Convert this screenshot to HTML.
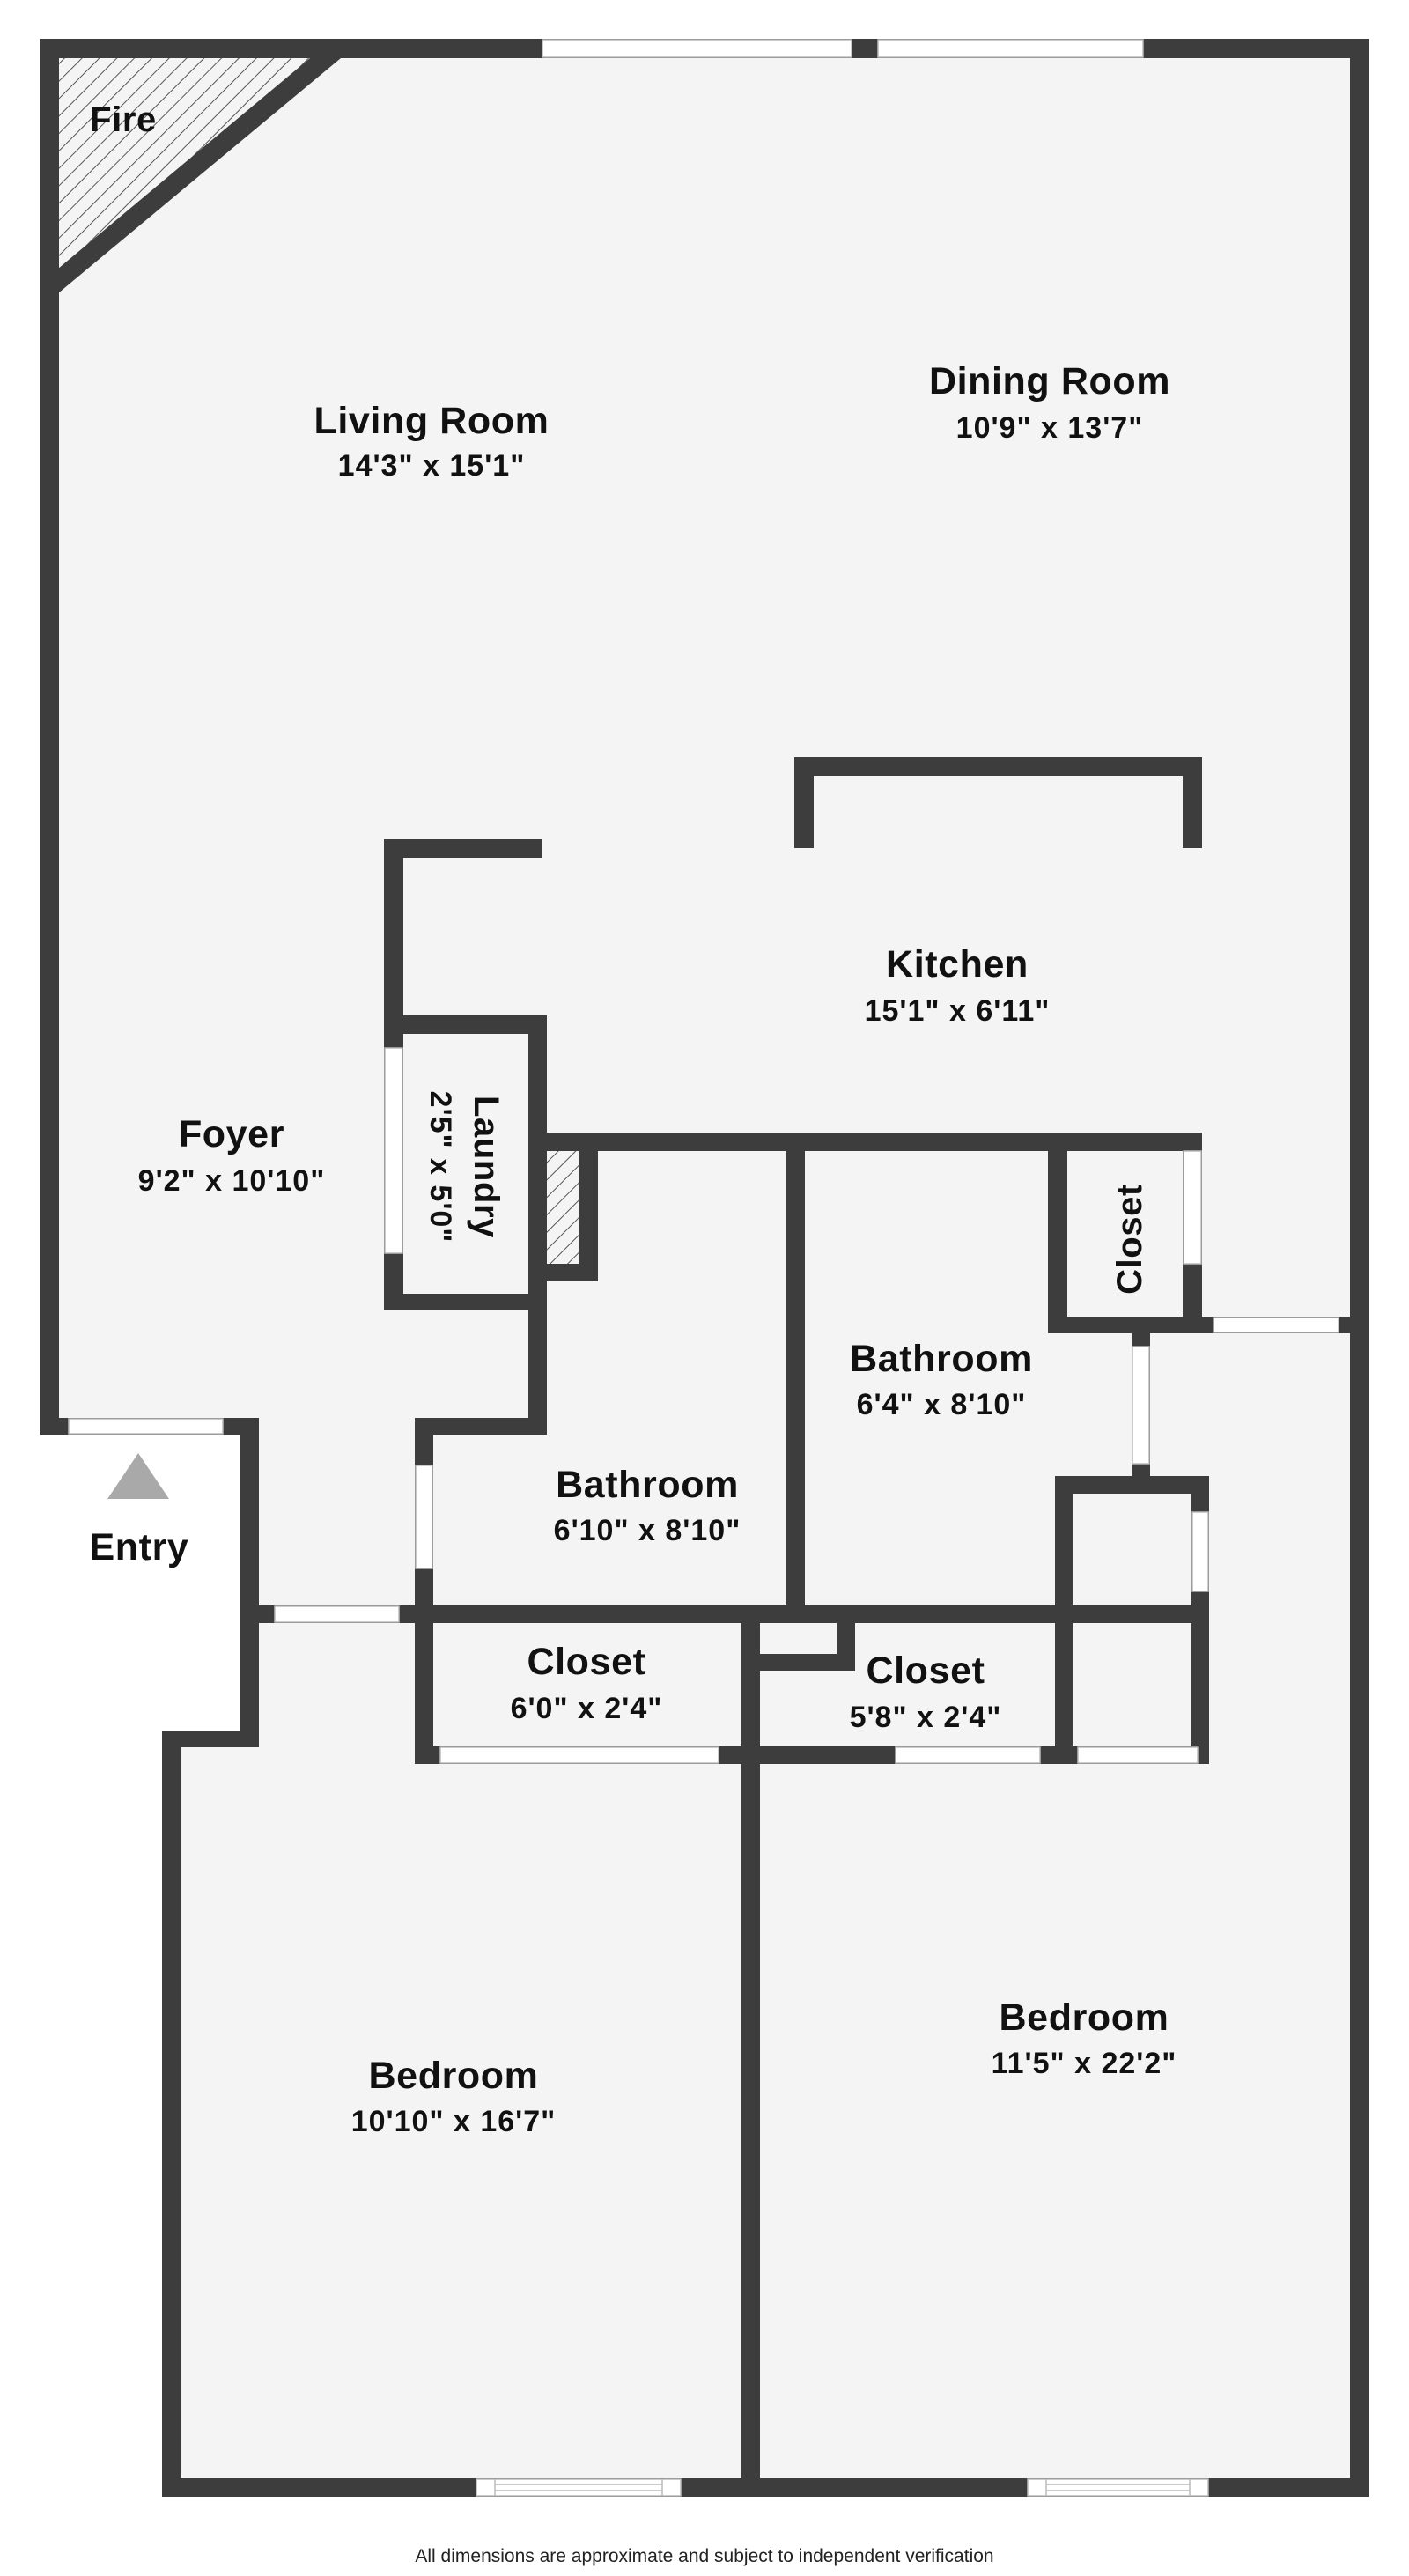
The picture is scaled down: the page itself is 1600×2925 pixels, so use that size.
<!DOCTYPE html>
<html><head><meta charset="utf-8"><style>
html,body{margin:0;padding:0;background:#fff;}
svg{display:block}
text{font-family:"Liberation Sans",sans-serif;font-weight:bold;fill:#111;text-anchor:middle}
.t{font-size:43px;letter-spacing:0.6px}
.d{font-size:34px;letter-spacing:1px}
</style></head><body>
<svg width="1600" height="2925" viewBox="0 0 1600 2925" xmlns="http://www.w3.org/2000/svg">
<defs>
<pattern id="h" width="14" height="14" patternUnits="userSpaceOnUse" patternTransform="rotate(45)">
<rect width="14" height="14" fill="#f4f4f4"/><line x1="0" y1="0" x2="0" y2="14" stroke="#555" stroke-width="2"/>
</pattern>
</defs>
<rect x="45" y="44" width="1510" height="2791" fill="#f4f4f4"/>
<polygon points="45,1629 272,1629 272,1984 184,1984 184,2835 45,2835" fill="#fff"/>
<polygon points="66,66 352,66 66,305" fill="url(#h)"/>
<g fill="#3d3d3d">
<rect x="45" y="44" width="1510" height="22"/>
<rect x="45" y="44" width="22" height="1585"/>
<rect x="1533" y="44" width="22" height="2791"/>
<rect x="45" y="1610" width="249" height="19"/>
<rect x="272" y="1610" width="22" height="374"/>
<rect x="184" y="1965" width="110" height="19"/>
<rect x="184" y="1965" width="21" height="870"/>
<rect x="184" y="2814" width="1371" height="21"/>
<polygon points="383,44 387,66 66,333 66,305 352,66"/>
<rect x="902" y="860" width="463" height="21"/>
<rect x="902" y="860" width="22" height="103"/>
<rect x="1343" y="860" width="22" height="103"/>
<rect x="436" y="953" width="180" height="21"/>
<rect x="436" y="953" width="22" height="535"/>
<rect x="436" y="1153" width="185" height="21"/>
<rect x="600" y="1153" width="21" height="476"/>
<rect x="436" y="1469" width="185" height="19"/>
<rect x="621" y="1307" width="36" height="128" fill="url(#h)"/>
<rect x="657" y="1286" width="22" height="169"/>
<rect x="621" y="1435" width="58" height="20"/>
<rect x="612" y="1286" width="753" height="21"/>
<rect x="892" y="1286" width="22" height="557"/>
<rect x="1190" y="1286" width="22" height="228"/>
<rect x="1343" y="1286" width="22" height="228"/>
<rect x="1190" y="1495" width="175" height="19"/>
<rect x="1365" y="1495" width="168" height="19"/>
<rect x="1285" y="1514" width="21" height="162"/>
<rect x="471" y="1610" width="150" height="19"/>
<rect x="471" y="1610" width="21" height="393"/>
<rect x="272" y="1823" width="1101" height="20"/>
<rect x="1198" y="1676" width="175" height="20"/>
<rect x="1198" y="1676" width="21" height="327"/>
<rect x="1353" y="1676" width="20" height="327"/>
<rect x="842" y="1823" width="21" height="1012"/>
<rect x="950" y="1823" width="21" height="74"/>
<rect x="863" y="1878" width="108" height="19"/>
<rect x="471" y="1983" width="902" height="20"/>
</g>
<g fill="#fff" stroke="#bbb" stroke-width="1.5">
<rect x="616" y="45" width="351" height="20"/>
<rect x="997" y="45" width="301" height="20"/>
<rect x="437" y="1190" width="20" height="233"/>
<rect x="1344" y="1307" width="20" height="128"/>
<rect x="1378" y="1496" width="142" height="17"/>
<rect x="1286" y="1529" width="19" height="133"/>
<rect x="78" y="1611" width="175" height="17"/>
<rect x="472" y="1664" width="19" height="117"/>
<rect x="1354" y="1717" width="18" height="90"/>
<rect x="312" y="1824" width="141" height="18"/>
<rect x="500" y="1984" width="316" height="18"/>
<rect x="1017" y="1984" width="164" height="18"/>
<rect x="1224" y="1984" width="136" height="18"/>
<rect x="541" y="2815" width="232" height="19"/>
<rect x="1167" y="2815" width="205" height="19"/>
<line x1="562" y1="2821" x2="752" y2="2821"/><line x1="562" y1="2828" x2="752" y2="2828"/>
<line x1="562" y1="2815" x2="562" y2="2834"/><line x1="752" y1="2815" x2="752" y2="2834"/>
<line x1="1188" y1="2821" x2="1351" y2="2821"/><line x1="1188" y1="2828" x2="1351" y2="2828"/>
<line x1="1188" y1="2815" x2="1188" y2="2834"/><line x1="1351" y1="2815" x2="1351" y2="2834"/>
</g>
<polygon points="157,1650 192,1702 122,1702" fill="#a9a9a9"/>
<text x="140" y="149" class="t" style="font-size:40px">Fire</text>
<text x="490" y="492" class="t">Living Room</text>
<text x="490" y="540" class="d">14'3" x 15'1"</text>
<text x="1192" y="447" class="t">Dining Room</text>
<text x="1192" y="497" class="d">10'9" x 13'7"</text>
<text x="1087" y="1109" class="t">Kitchen</text>
<text x="1087" y="1159" class="d">15'1" x 6'11"</text>
<text x="263" y="1302" class="t">Foyer</text>
<text x="263" y="1352" class="d">9'2" x 10'10"</text>
<text transform="translate(539,1325) rotate(90)" class="t" style="font-size:40px">Laundry</text>
<text transform="translate(489,1325) rotate(90)" class="d">2'5" x 5'0"</text>
<text transform="translate(1296,1407) rotate(-90)" class="t" style="font-size:40px">Closet</text>
<text x="1069" y="1557" class="t">Bathroom</text>
<text x="1069" y="1606" class="d">6'4" x 8'10"</text>
<text x="735" y="1700" class="t">Bathroom</text>
<text x="735" y="1749" class="d">6'10" x 8'10"</text>
<text x="158" y="1771" class="t">Entry</text>
<text x="666" y="1901" class="t">Closet</text>
<text x="666" y="1951" class="d">6'0" x 2'4"</text>
<text x="1051" y="1911" class="t">Closet</text>
<text x="1051" y="1961" class="d">5'8" x 2'4"</text>
<text x="515" y="2371" class="t">Bedroom</text>
<text x="515" y="2420" class="d">10'10" x 16'7"</text>
<text x="1231" y="2305" class="t">Bedroom</text>
<text x="1231" y="2354" class="d">11'5" x 22'2"</text>
<text x="800" y="2909" style="font-weight:normal;font-size:21px;fill:#222">All dimensions are approximate and subject to independent verification</text>
</svg>
</body></html>
